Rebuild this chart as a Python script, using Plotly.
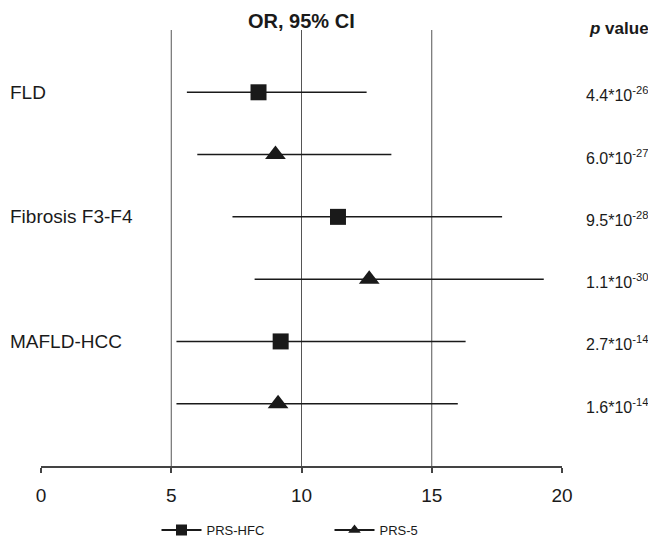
import plotly.graph_objects as go

categories = ["FLD", "Fibrosis F3-F4", "MAFLD-HCC"]
series_names = ["PRS-HFC", "PRS-5"]

hfc_or = [8.35, 11.4, 9.2]
hfc_lo = [5.6, 7.35, 5.2]
hfc_hi = [12.5, 17.7, 16.3]
hfc_p = ["4.4*10<sup>-26</sup>", "9.5*10<sup>-28</sup>", "2.7*10<sup>-14</sup>"]

prs5_or = [9.0, 12.6, 9.1]
prs5_lo = [6.0, 8.2, 5.2]
prs5_hi = [13.45, 19.3, 16.0]
prs5_p = ["6.0*10<sup>-27</sup>", "1.1*10<sup>-30</sup>", "1.6*10<sup>-14</sup>"]

x_ticks = [0, 5, 10, 15, 20]
grid_vals = [5, 10, 15]

FONT = "Arial, Liberation Sans, Helvetica, sans-serif"
INK = "#1a1a1a"

# figure geometry (page has an 8px body margin)
W, H = 648, 537
ML, MR, MT = 33, 94, 22
PLOT_W = W - ML - MR
PAPER_H = H - MT
Y_DOMAIN_BOTTOM = (H - 458) / PAPER_H

hfc_rows = [2 * i for i in range(len(categories))]
prs5_rows = [2 * i + 1 for i in range(len(categories))]

fig = go.Figure()


def add_series(name, orv, lo, hi, rows, symbol, size):
    fig.add_trace(go.Scatter(
        x=orv, y=rows, mode="markers", showlegend=False, name=name,
        marker=dict(symbol=symbol, size=size, color=INK),
        error_x=dict(type="data", symmetric=False,
                     array=[h - o for h, o in zip(hi, orv)],
                     arrayminus=[o - l for o, l in zip(orv, lo)],
                     width=0, thickness=1.5, color=INK),
    ))
    fig.add_trace(go.Scatter(
        x=[None], y=[None], mode="lines+markers", name=name, showlegend=True,
        line=dict(color=INK, width=2),
        marker=dict(symbol=symbol, size=11, color=INK),
    ))


add_series(series_names[0], hfc_or, hfc_lo, hfc_hi, hfc_rows, "square", 16)
add_series(series_names[1], prs5_or, prs5_lo, prs5_hi, prs5_rows, "triangle-up", 18)

# vertical reference lines
for g in grid_vals:
    fig.add_shape(type="line", xref="x", yref="y domain", x0=g, x1=g, y0=0, y1=1,
                  line=dict(color="#555", width=1), layer="below")

# category labels
for i, c in enumerate(categories):
    fig.add_annotation(text=c, xref="paper", x=-ML / PLOT_W, xanchor="left",
                       yref="y", y=hfc_rows[i], showarrow=False,
                       font=dict(family=FONT, size=19, color=INK))

# p values
for rows, pv in ((hfc_rows, hfc_p), (prs5_rows, prs5_p)):
    for r, p in zip(rows, pv):
        fig.add_annotation(text=p, xref="paper", x=(576 - ML) / PLOT_W, xanchor="left",
                           yref="y", y=r, yshift=-2, showarrow=False,
                           font=dict(family=FONT, size=16, color=INK))

fig.add_annotation(text="<b><i>p</i> value</b>", xref="paper", x=(579 - ML) / PLOT_W,
                   xanchor="left", yref="paper", y=1 + 2 / PAPER_H, yanchor="middle",
                   showarrow=False, font=dict(family=FONT, size=17, color=INK))
fig.add_annotation(text="<b>OR, 95% CI</b>", xref="x", x=10, xanchor="center",
                   yref="paper", y=1 + MT / PAPER_H, yanchor="top",
                   showarrow=False, font=dict(family=FONT, size=20, color=INK))

fig.update_layout(
    width=W, height=H,
    margin=dict(l=ML, r=MR, t=MT, b=0, pad=0),
    paper_bgcolor="white", plot_bgcolor="white",
    font=dict(family=FONT, color=INK),
    xaxis=dict(range=[0, 20], tickvals=x_ticks, ticks="outside", ticklen=5,
               tickcolor="#444", tickwidth=1.5, showgrid=False,
               zeroline=False, showline=True, linecolor="#444", linewidth=1.5,
               tickfont=dict(family=FONT, size=19, color=INK), ticklabelstandoff=6),
    yaxis=dict(range=[6, -1], visible=False, showgrid=False, zeroline=False,
               domain=[Y_DOMAIN_BOTTOM, 1]),
    showlegend=True,
    legend=dict(orientation="h", x=0.5 + 28 / PLOT_W, xanchor="center", y=0,
                yanchor="bottom", font=dict(family=FONT, size=13, color=INK),
                entrywidth=118, itemwidth=40),
)

fig.write_html("out.html")
